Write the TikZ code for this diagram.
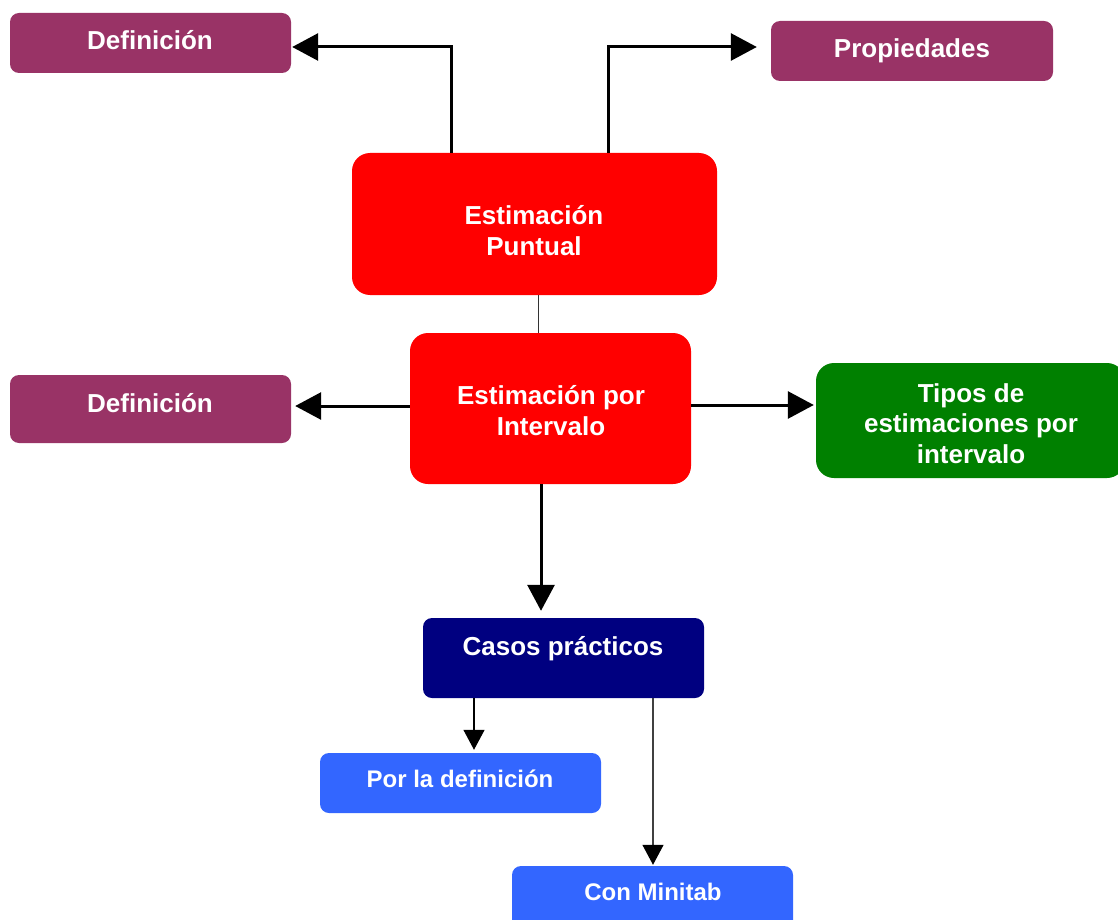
\documentclass[tikz,border=0pt]{standalone}
\usepackage{fontspec}
\setmainfont{Liberation Sans}
\usetikzlibrary{arrows.meta}
\definecolor{cpurple}{HTML}{993366}
\definecolor{cred}{HTML}{FF0000}
\definecolor{cgreen}{HTML}{008000}
\definecolor{cnavy}{HTML}{000080}
\definecolor{cblue}{HTML}{3366FF}
\tikzset{
  boxbase/.style={rectangle, inner sep=0pt, draw=none},
  smallbox/.style={boxbase, rounded corners=9pt},
  bigbox/.style={boxbase, rounded corners=18pt},
  txt/.style={text=white, font=\bfseries\fontsize{26}{30.5}\selectfont, align=center, inner sep=0pt},
  txtsmall/.style={text=white, font=\bfseries\fontsize{24}{29}\selectfont, align=center, inner sep=0pt},
  thickarrow/.style={line width=3pt, line join=miter, -{Triangle[length=26pt,width=27pt]}},
  thinarrow/.style={line width=1.4pt, -{Triangle[length=20pt,width=21pt,color=black]}},
}
\begin{document}
\begin{tikzpicture}[x=1pt,y=-1pt]
\useasboundingbox (0,0) rectangle (1118,920);
% boxes
\node[smallbox, fill=cpurple, minimum width=281pt, minimum height=60pt] (def1) at (150.5,43) {};
\node[smallbox, fill=cpurple, minimum width=282pt, minimum height=60pt] (prop) at (912,51) {};
\node[bigbox, fill=cred, minimum width=365pt, minimum height=142pt] (punt) at (534.5,224) {};
\node[bigbox, fill=cred, minimum width=281pt, minimum height=151pt] (interv) at (550.5,408.5) {};
\node[smallbox, fill=cpurple, minimum width=281pt, minimum height=68pt] (def2) at (150.5,409) {};
\node[bigbox, fill=cgreen, minimum width=309pt, minimum height=115pt] (tipos) at (970.5,420.5) {};
\node[smallbox, fill=cnavy, minimum width=281pt, minimum height=80pt] (casos) at (563.5,658) {};
\node[smallbox, fill=cblue, minimum width=281pt, minimum height=60pt] (por) at (460.5,783) {};
\node[smallbox, fill=cblue, minimum width=281pt, minimum height=64pt] (mini) at (652.5,898) {};
% texts
\node[txt, anchor=base] (def1t) at (150,50) {Definición};
\node[txt, anchor=base] (propt) at (912,58) {Propiedades};
\node[txt] (puntt) at (534,230.5) {Estimación\\Puntual};
\node[txt] (intervt) at (551,410.5) {Estimación por\\Intervalo};
\node[txt, anchor=base] (def2t) at (150,412) {Definición};
\node[txt] (tipost) at (971,423.5) {Tipos de\\estimaciones por\\intervalo};
\node[txt, anchor=base] (casost) at (563,655) {Casos prácticos};
\node[txtsmall, anchor=base] (port) at (460,787) {Por la definición};
\node[txtsmall, anchor=base] (minit) at (653,900) {Con Minitab};
% connectors
\coordinate (c1) at (451,47);
\coordinate (c2) at (608,47);
\draw[thickarrow] (punt.north -| c1) -- (c1) -- ([xshift=1pt]def1.east |- c1);
\draw[thickarrow] (punt.north -| c2) -- (c2) -- ([xshift=-14pt]prop.west |- c2);
\coordinate (c3) at (538,0);
\draw[line width=1pt, black!80] (punt.south -| c3) -- (interv.north -| c3);
\coordinate (c4) at (0,406);
\draw[thickarrow] (interv.west |- c4) -- ([xshift=4pt]def2.east |- c4);
\coordinate (c5) at (0,405);
\draw[thickarrow] (interv.east |- c5) -- ([xshift=-2pt]tipos.west |- c5);
\coordinate (c6) at (541,0);
\draw[thickarrow] (interv.south -| c6) -- ([yshift=7pt]casos.north -| c6);
\coordinate (c7) at (474,0);
\draw[thinarrow] (casos.south -| c7) -- ([yshift=3pt]por.north -| c7);
\coordinate (c8) at (653,0);
\draw[thinarrow, draw=black!75] (casos.south -| c8) -- ([yshift=1pt]mini.north -| c8);
\end{tikzpicture}
\end{document}
